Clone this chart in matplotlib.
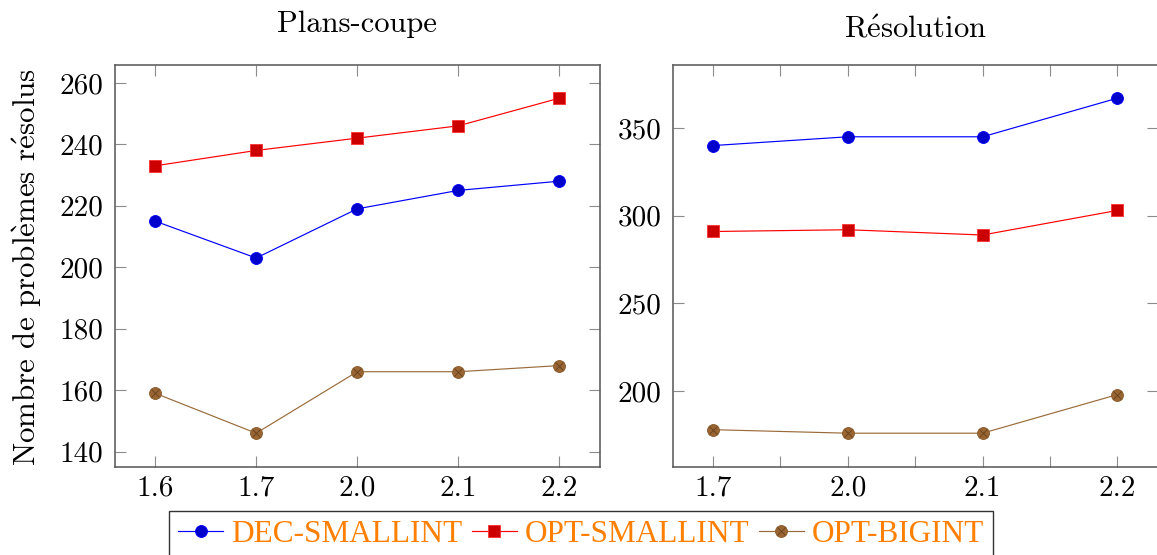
import matplotlib
matplotlib.use("Agg")
import matplotlib.pyplot as plt
from matplotlib.ticker import FixedLocator
from matplotlib.lines import Line2D

plt.rcParams.update({
    "font.family": "serif",
    "font.serif": ["cmr10"],
    "mathtext.fontset": "cm",
    "axes.formatter.use_mathtext": True,
})

# Solver versions and number of solved problems
versions_cut = ["1.6", "1.7", "2.0", "2.1", "2.2"]
cut_dec_smallint = [215, 203, 219, 225, 228]
cut_opt_smallint = [233, 238, 242, 246, 255]
cut_opt_bigint = [159, 146, 166, 166, 168]

versions_res = ["1.7", "2.0", "2.1", "2.2"]
res_dec_smallint = [340, 345, 345, 367]
res_opt_smallint = [291, 292, 289, 303]
res_opt_bigint = [178, 176, 176, 198]

series_names = ["DEC-SMALLINT", "OPT-SMALLINT", "OPT-BIGINT"]
cut_yticks = [140, 160, 180, 200, 220, 240, 260]
res_yticks = [200, 250, 300, 350]

W, H = 1157, 555
fig = plt.figure(figsize=(W / 100, H / 100), dpi=100)
ax1 = fig.add_axes([114.7 / W, 1 - 466.7 / H, 485.0 / W, 402.0 / H])
ax2 = fig.add_axes([672.7 / W, 1 - 466.7 / H, 485.0 / W, 402.0 / H])

styles = [
    dict(color="#0000FF", marker="o", markerfacecolor="#0000CC",
         markeredgecolor="#0000FF", markersize=8.6),
    dict(color="#FF0000", marker="s", markerfacecolor="#CC0000",
         markeredgecolor="#FF3030", markersize=8.3),
    dict(color="#9A6B3A", marker="o", markerfacecolor="#996633",
         markeredgecolor="#8A5A2A", markersize=8.6),
]
cross_style = dict(linestyle="none", marker="x", markersize=5.6,
                   markeredgecolor="#6B4520", markeredgewidth=0.7)

TICK_LEN = 7.9
TICK_COLOR = "#8c8c8c"
SPINE_COLOR = "#555555"


def draw_panel(ax, versions, series, yticks):
    xs = list(range(len(versions)))
    for vals, st in zip(series, styles):
        ax.plot(xs, vals, linewidth=0.85, markeredgewidth=0.6, **st)
    ax.plot(xs, series[2], **cross_style)

    # 10 % margins on both axes
    span_x = xs[-1] - xs[0]
    ax.set_xlim(xs[0] - 0.1 * span_x, xs[-1] + 0.1 * span_x)
    all_vals = [v for s in series for v in s]
    lo, hi = min(all_vals), max(all_vals)
    ax.set_ylim(lo - 0.1 * (hi - lo), hi + 0.1 * (hi - lo))

    ax.xaxis.set_major_locator(FixedLocator(xs))
    ax.set_xticklabels(versions)
    ax.yaxis.set_major_locator(FixedLocator(yticks))
    ax.set_yticklabels([str(t) for t in yticks])

    ax.tick_params(which="both", direction="in", length=TICK_LEN, width=0.8,
                   color=TICK_COLOR, top=True, right=True, labelsize=21)
    ax.tick_params(axis="x", pad=6.4)
    ax.tick_params(axis="y", pad=8.0)
    for sp in ax.spines.values():
        sp.set_color(SPINE_COLOR)
        sp.set_linewidth(1.1)


draw_panel(ax1, versions_cut,
           [cut_dec_smallint, cut_opt_smallint, cut_opt_bigint], cut_yticks)
draw_panel(ax2, versions_res,
           [res_dec_smallint, res_opt_smallint, res_opt_bigint], res_yticks)

# intermediate ticks between the versions on the right panel
ax2.xaxis.set_minor_locator(FixedLocator([0.5, 1.5, 2.5]))
ax2.yaxis.set_minor_locator(FixedLocator([]))

fig.text(357.2 / W, 1 - 32.0 / H, "Plans-coupe", ha="center",
         va="baseline", fontsize=22)
fig.text(915.0 / W, 1 - 38.0 / H, "R" + r"$\mathrm{\acute{e}}$" + "solution",
         ha="center", va="baseline", fontsize=22)
fig.text(27.0 / W, 1 - 267.0 / H,
         "Nombre de probl" + r"$\mathrm{\grave{e}}$" + "mes r"
         + r"$\mathrm{\acute{e}}$" + "solus",
         rotation=90, ha="center", va="center", fontsize=22.3)

handles = []
for i, st in enumerate(styles):
    base = Line2D([], [], linewidth=0.85, markeredgewidth=0.6, **st)
    if i == 2:
        handles.append((base, Line2D([], [], **cross_style)))
    else:
        handles.append(base)

leg = fig.legend(handles, series_names, loc="upper center",
                 bbox_to_anchor=(581.0 / W, 1 - 510.5 / H), ncol=3,
                 frameon=True, fancybox=False, edgecolor="#333333",
                 framealpha=1.0,
                 prop=dict(family="Liberation Serif", size=22.5),
                 labelcolor="#FF8000", handlelength=1.45, handletextpad=0.25,
                 columnspacing=0.3, borderpad=0.3, borderaxespad=0.0,
                 numpoints=1)
leg.get_frame().set_linewidth(1.0)

fig.savefig("out.png", dpi=100)
